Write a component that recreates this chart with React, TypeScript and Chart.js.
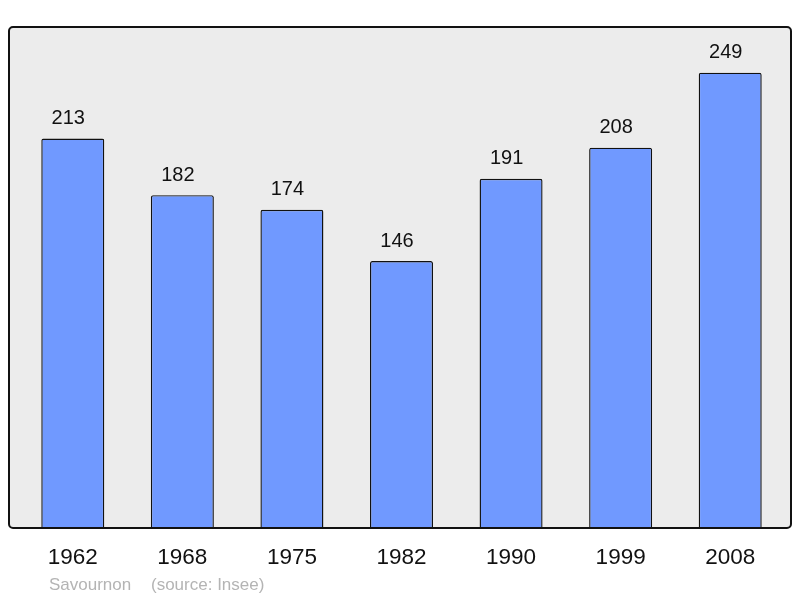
import React, { useEffect, useRef } from "react";
import { Chart, registerables } from "chart.js";

Chart.register(...registerables);

const years = ["1962", "1968", "1975", "1982", "1990", "1999", "2008"];
const population = [213, 182, 174, 146, 191, 208, 249];
const footerName = "Savournon";
const footerSource = "(source: Insee)";

const FONT = "'Liberation Sans', Arial, sans-serif";

const boxPlugin = {
  id: "boxPlugin",
  beforeDatasetsDraw(chart: any) {
    const ctx = chart.ctx;
    ctx.save();
    ctx.fillStyle = "#ececec";
    ctx.beginPath();
    ctx.roundRect(9, 27, 782, 501, 4);
    ctx.fill();
    ctx.restore();
  },
  afterDatasetsDraw(chart: any) {
    const ctx = chart.ctx;
    ctx.save();
    ctx.strokeStyle = "#111111";
    ctx.lineWidth = 2;
    ctx.beginPath();
    ctx.roundRect(9, 27, 782, 501, 4);
    ctx.stroke();

    const meta = chart.getDatasetMeta(0);
    ctx.fillStyle = "#111111";
    ctx.font = `20px ${FONT}`;
    ctx.textAlign = "center";
    ctx.textBaseline = "middle";
    meta.data.forEach((bar: any, i: number) => {
      ctx.fillText(String(population[i]), bar.x - 4.5, bar.y - 20);
    });

    ctx.fillStyle = "#b4b4b4";
    ctx.font = `17px ${FONT}`;
    ctx.textAlign = "left";
    ctx.fillText(footerName, 49, 585);
    ctx.fillText(footerSource, 151, 585);
    ctx.restore();
  },
};

export default function App() {
  const ref = useRef<HTMLCanvasElement>(null);
  useEffect(() => {
    if (!ref.current) return;
    const chart = new Chart(ref.current, {
      type: "bar",
      data: {
        labels: years,
        datasets: [
          {
            data: population,
            backgroundColor: "#7099ff",
            borderColor: "#111111",
            borderWidth: 1.4,
            borderRadius: 2,
            borderSkipped: "start",
            barPercentage: 0.575,
            categoryPercentage: 1,
          },
        ],
      },
      options: {
        animation: false,
        responsive: false,
        layout: { padding: { left: 18, right: 15, top: 27, bottom: 0 } },
        plugins: {
          legend: { display: false },
          tooltip: { enabled: false },
        },
        scales: {
          x: {
            grid: { display: false, drawTicks: false },
            border: { display: false },
            ticks: {
              color: "#111111",
              font: { family: FONT, size: 22.5 },
              padding: 16,
              maxRotation: 0,
            },
            afterFit: (scale: any) => {
              scale.height = 70;
            },
          },
          y: {
            display: false,
            min: 0,
            max: 274,
          },
        },
      },
      plugins: [boxPlugin],
    });
    return () => chart.destroy();
  }, []);
  return (
    <div style={{ position: "fixed", left: 0, top: 0, width: 800, height: 598, background: "#ffffff" }}>
      <canvas ref={ref} width={800} height={598} style={{ width: 800, height: 598, display: "block" }} />
    </div>
  );
}
